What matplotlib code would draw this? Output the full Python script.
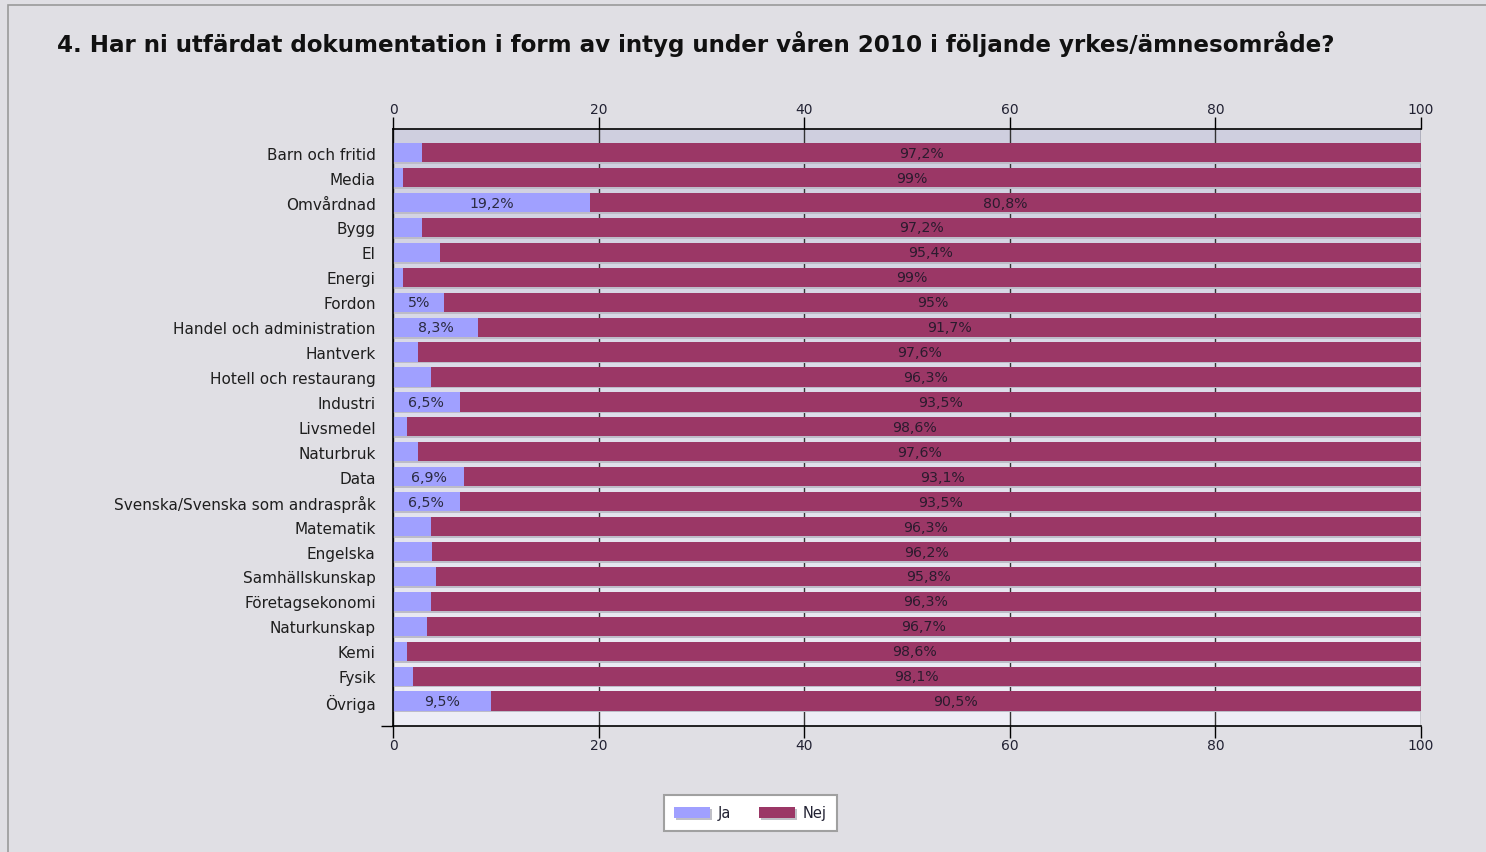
import numpy as np
import matplotlib
matplotlib.use("Agg")
import matplotlib.pyplot as plt
from matplotlib.colors import LinearSegmentedColormap
from matplotlib.patches import Rectangle, Patch
import matplotlib.patheffects as pe

categories = ["Barn och fritid", "Media", "Omvårdnad", "Bygg", "El", "Energi", "Fordon",
              "Handel och administration", "Hantverk", "Hotell och restaurang", "Industri",
              "Livsmedel", "Naturbruk", "Data", "Svenska/Svenska som andraspråk", "Matematik",
              "Engelska", "Samhällskunskap", "Företagsekonomi", "Naturkunskap", "Kemi", "Fysik",
              "Övriga"]
ja = [2.8, 1.0, 19.2, 2.8, 4.6, 1.0, 5.0, 8.3, 2.4, 3.7, 6.5, 1.4, 2.4, 6.9, 6.5, 3.7,
      3.8, 4.2, 3.7, 3.3, 1.4, 1.9, 9.5]
nej = [97.2, 99, 80.8, 97.2, 95.4, 99, 95, 91.7, 97.6, 96.3, 93.5, 98.6, 97.6, 93.1, 93.5,
       96.3, 96.2, 95.8, 96.3, 96.7, 98.6, 98.1, 90.5]
series_names = ["Ja", "Nej"]
x_ticks = [0, 20, 40, 60, 80, 100]
title = "4. Har ni utfärdat dokumentation i form av intyg under våren 2010 i följande yrkes/ämnesområde?"

c_ja = "#a0a0ff"
c_nej = "#9b3766"
bg = "#e0dfe4"

W, H = 1486, 853
fig = plt.figure(figsize=(W / 100, H / 100), dpi=100, facecolor=bg)
ax = fig.add_axes([393 / W, 1 - 727 / H, (1421 - 393) / W, (727 - 130) / H])

y = np.arange(len(categories))
ja_a = np.array(ja)
nej_a = np.array(nej)
h = 0.77

# gradient plot background
cmap = LinearSegmentedColormap.from_list("bgg", ["#cfcfdf", "#eeeef6"])
ax.imshow(np.linspace(0, 1, 256).reshape(-1, 1), extent=[0, 100, 23, -0.95],
          aspect="auto", cmap=cmap, zorder=0)

# shadows
ax.barh(y + 0.07, ja_a + nej_a, left=0, height=h, color="#bdbcc8", zorder=1.5, linewidth=0)
ax.barh(y, ja_a, height=h, color=c_ja, zorder=2, linewidth=0, label=series_names[0])
ax.barh(y, nej_a, left=ja_a, height=h, color=c_nej, zorder=2, linewidth=0, label=series_names[1])

def fmt(v):
    return f"{v:g}".replace(".", ",") + "%"

txt_kw = dict(ha="center", va="center", fontsize=10.2, zorder=3)
for i in range(len(categories)):
    if ja[i] >= 5:
        ax.text(ja[i] / 2, y[i], fmt(ja[i]), color="#2a2a40", **txt_kw)
    ax.text(ja[i] + nej[i] / 2, y[i], fmt(nej[i]), color="#2b1b2e", **txt_kw)

ax.set_xlim(0, 100)
ax.set_ylim(23, -0.95)
ax.set_facecolor("none")

ax.set_axisbelow(True)
ax.grid(axis="x", color="#333333", linewidth=1)
ax.grid(axis="y", visible=False)

ax.set_xticks(x_ticks)
ax.tick_params(axis="x", which="both", top=True, bottom=True, labeltop=True, labelbottom=True,
               direction="out", length=8.5, width=1, color="black", labelsize=10,
               labelcolor="#222233", pad=0.5)

ax.set_yticks(y)
ax.set_yticklabels(categories)
ax.tick_params(axis="y", which="major", length=0, pad=12.5, labelsize=11, labelcolor="#1e1e1e")
ax.set_yticks([3, 8, 13, 18, 23], minor=True)
ax.tick_params(axis="y", which="minor", length=9, width=1, color="black", direction="out")

for s in ["left", "top", "bottom"]:
    ax.spines[s].set_color("black")
    ax.spines[s].set_linewidth(1.2)
ax.spines["right"].set_visible(False)

fig.text(57 / W, 1 - 44 / H, title, fontsize=16.6, fontweight="bold", color="#111111",
         ha="left", va="center")

# outer frame
fig.patches.append(Rectangle((8 / W, -0.1), 1.2, 1 - 6 / H + 0.1, transform=fig.transFigure,
                             fill=False, edgecolor="#9a9a9a", linewidth=1.2))

handles = [Patch(facecolor=c_ja, edgecolor="none"), Patch(facecolor=c_nej, edgecolor="none")]
leg = fig.legend(handles, series_names, loc="center", bbox_to_anchor=(750 / W, 1 - 814 / H),
                 ncol=2, frameon=True, fancybox=False, facecolor="white", edgecolor="#a0a0a0",
                 framealpha=1, fontsize=10.5, handlelength=2.5, handleheight=0.75,
                 columnspacing=1.9, handletextpad=0.5, borderpad=0.7, borderaxespad=0)
leg.get_frame().set_linewidth(1.5)
for t in leg.get_texts():
    t.set_color("#222233")
for p in leg.get_patches():
    p.set_path_effects([pe.SimplePatchShadow(offset=(1.5, -1.5), shadow_rgbFace="#b0b0b8", alpha=0.8),
                        pe.Normal()])

fig.savefig("out.png", dpi=100, facecolor=bg)
